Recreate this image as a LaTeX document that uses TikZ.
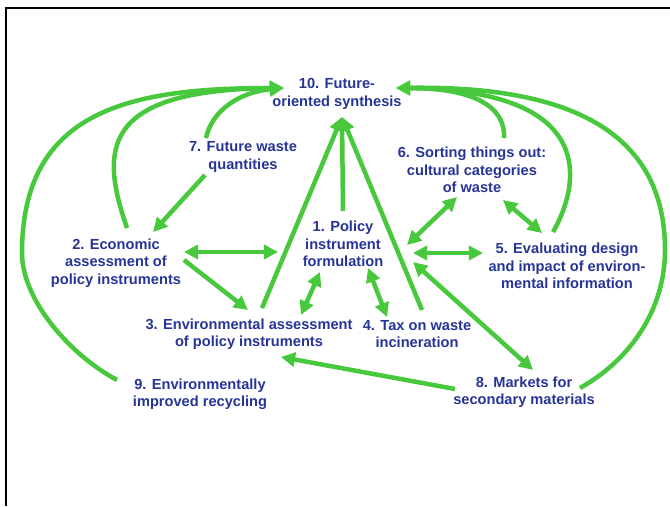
\documentclass[tikz,border=0pt]{standalone}
\usepackage{fontspec}
\setmainfont{Liberation Sans}
\usetikzlibrary{arrows.meta}
\definecolor{arrowgreen}{RGB}{72,200,60}
\definecolor{topicblue}{RGB}{38,52,150}
\tikzset{
  topic/.style={align=center, text=topicblue, inner sep=1pt,
    font=\fontsize{10.4}{12.4}\selectfont\bfseries},
  link/.style={draw=arrowgreen, line width=3.2pt,
    -{Triangle[length=10pt,width=10pt]}},
  dlink/.style={link, {Triangle[length=10pt,width=10pt]}-{Triangle[length=10pt,width=10pt]}},
}
\begin{document}
\begin{tikzpicture}[x=0.025cm,y=-0.025cm]
\useasboundingbox (0,0) rectangle (670,506);
\draw[line width=1.4pt] (6,506) -- (6,8) -- (670,8);

\node(n10)[topic] at (337,94) {10. Future-\\oriented synthesis};
\node(n7)[topic] at (243,157) {7. Future waste\\quantities};
\node(n6)[topic] at (472,170) {6. Sorting things out:\\cultural categories\\of waste};
\node(n1)[topic] at (343,244) {1. Policy\\instrument\\formulation};
\node(n2)[topic] at (116,263) {2. Economic\\assessment of\\policy instruments};
\node(n5)[topic] at (567,266) {5. Evaluating design\\and impact of environ-\\mental information};
\node(n3)[topic] at (249,334) {3. Environmental assessment\\of policy instruments};
\node(n4)[topic] at (417,334) {4. Tax on waste\\incineration};
\node(n8)[topic] at (524,392) {8. Markets for\\secondary materials};
\node(n9)[topic] at (200,394) {9. Environmentally\\improved recycling};

\coordinate(in10w) at ([shift={(-53,-6)}]n10.center);
\coordinate(in10e) at ([shift={(59,-6)}]n10.center);
\coordinate(in10s) at ([shift={(5,23)}]n10.center);

% curves into 10
\draw[link] ([shift={(-37,-19)}]n7.center) .. controls (212,110) and (240,92) .. (in10w);
\draw[link] ([shift={(11,-35)}]n2.center) .. controls (100,150) and (100,90) .. (in10w);
\draw[link] ([shift={(-83,-14)}]n9.center) .. controls (70,355) and (22,300) .. (22,253)
  .. controls (22,110) and (130,88) .. (in10w);
\draw[link] ([shift={(32,-32)}]n6.center) .. controls (506,105) and (470,88) .. (in10e);
\draw[link] ([shift={(-14,-34)}]n5.center) .. controls (580,185) and (600,90) .. (in10e);
\draw[link] ([shift={(56,-4)}]n8.center) .. controls (630,360) and (665,310) .. (665,250)
  .. controls (665,115) and (540,86) .. (in10e);

% straight lines into 10
\draw[link] ([shift={(13,-26)}]n3.center) -- (in10s);
\draw[link] ([shift={(0,-33)}]n1.center) -- (in10s);
\draw[link] ([shift={(5,-24)}]n4.center) -- (in10s);

% the rest
\draw[link] ([shift={(-38,18)}]n7.center) -- ([shift={(37,-31)}]n2.center);
\draw[dlink] ([shift={(68,-11)}]n2.center) -- ([shift={(-65,8)}]n1.center);
\draw[link] ([shift={(68,-3)}]n2.center) -- ([shift={(-1,-24)}]n3.center);
\draw[dlink] ([shift={(-23,28)}]n1.center) -- ([shift={(52,-19)}]n3.center);
\draw[dlink] ([shift={(25,24)}]n1.center) -- ([shift={(-30,-17)}]n4.center);
\draw[dlink] ([shift={(64,1)}]n1.center) -- ([shift={(-15,27)}]n6.center);
\draw[dlink] ([shift={(70,9)}]n1.center) -- ([shift={(-84,-13)}]n5.center);
\draw[dlink] ([shift={(31,30)}]n6.center) -- ([shift={(-25,-33)}]n5.center);
\draw[dlink] ([shift={(70,18)}]n1.center) -- ([shift={(9,-22)}]n8.center);
\draw[link] ([shift={(-69,-3)}]n8.center) -- ([shift={(32,23)}]n3.center);
\end{tikzpicture}
\end{document}
